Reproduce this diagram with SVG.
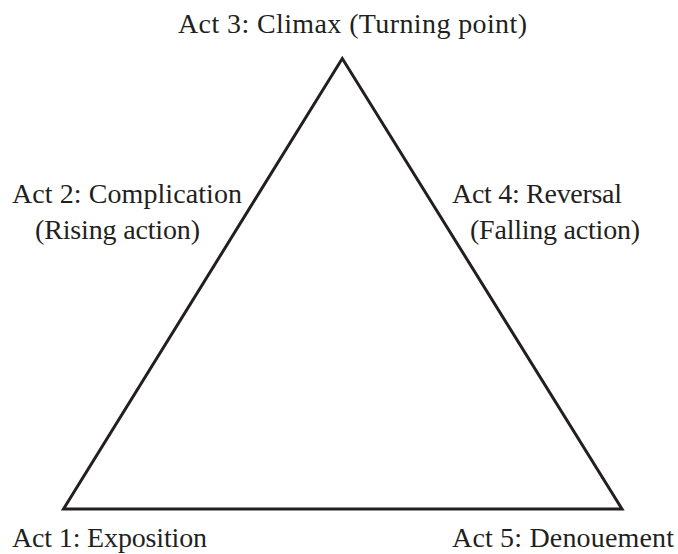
<svg xmlns="http://www.w3.org/2000/svg" width="678" height="554" viewBox="0 0 678 554">
<style>
text{font-family:"Liberation Serif",serif;font-size:28px;fill:#231f20}
.c{stroke:#231f20;stroke-width:3;fill:none;stroke-linejoin:miter}
</style>
<rect width="678" height="554" fill="#fff"/>
<g id="connectors">
<polygon class="c" points="342.3,58.5 63.5,509 622,509"/>
</g>
<g id="act3"><text x="178" y="33" textLength="349">Act 3: Climax (Turning point)</text></g>
<g id="act2"><text x="12" y="203" textLength="230">Act 2: Complication</text><text x="35" y="239" textLength="165">(Rising action)</text></g>
<g id="act4"><text x="452" y="203" textLength="170">Act 4: Reversal</text><text x="470" y="239" textLength="170">(Falling action)</text></g>
<g id="act1"><text x="12" y="547" textLength="195">Act 1: Exposition</text></g>
<g id="act5"><text x="452" y="547" textLength="222">Act 5: Denouement</text></g>
</svg>
